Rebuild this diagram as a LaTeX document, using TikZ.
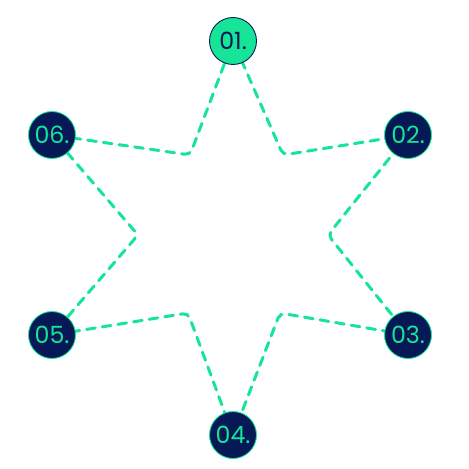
\documentclass[tikz,border=0pt]{standalone}
\usepackage{fontspec}
\setmainfont{Poppins}
\usetikzlibrary{positioning, calc}
\definecolor{mint}{RGB}{22,228,150}
\definecolor{navy}{RGB}{6,24,86}

\begin{document}
\begin{tikzpicture}[
  x=0.02cm, y=-0.02cm,
  step dot/.style={circle, draw=mint, fill=navy, text=mint, line width=0.5pt,
    minimum size=0.94cm, inner sep=0pt, font=\fontsize{13.5}{15}\selectfont},
  first dot/.style={step dot, fill=mint, draw=navy, text=navy},
  ray/.style={mint, line width=1.7pt, dash pattern=on 5pt off 4pt, line cap=round,
    line join=round, rounded corners=3pt}
]
  \useasboundingbox (0,0) rectangle (468,469);

  % inner corners
  \coordinate (i12) at (283,155);
  \coordinate (i23) at (328,235);
  \coordinate (i34) at (280,313);
  \coordinate (i45) at (188,313);
  \coordinate (i56) at (138,235);
  \coordinate (i61) at (190,155);

  % outer points of the star
  \coordinate (p1) at (233,41);
  \coordinate (p2) at (408,135);
  \coordinate (p3) at (408,335);
  \coordinate (p4) at (233,435);
  \coordinate (p5) at (52,335);
  \coordinate (p6) at (52,135);

  % the star, drawn under the dots
  \draw[ray] (p1) -- (i12) -- (p2) -- (i23) -- (p3) -- (i34) -- (p4)
    -- (i45) -- (p5) -- (i56) -- (p6) -- (i61) -- cycle;

  \node[first dot] (n1) at (p1) {01.};
  \node[step dot] (n2) at (p2) {02.};
  \node[step dot] (n3) at (p3) {03.};
  \node[step dot] (n4) at (p4) {04.};
  \node[step dot] (n5) at (p5) {05.};
  \node[step dot] (n6) at (p6) {06.};
\end{tikzpicture}
\end{document}
